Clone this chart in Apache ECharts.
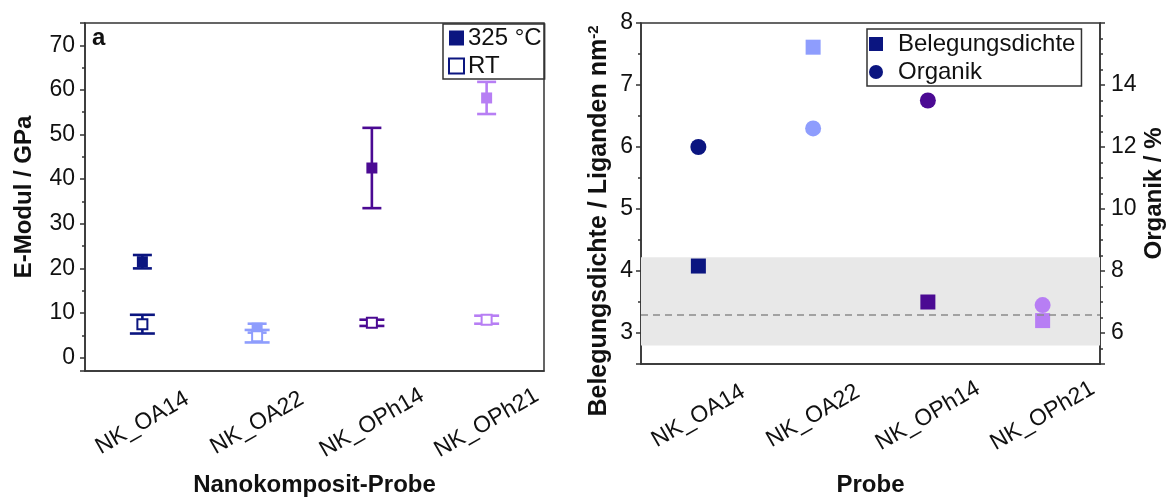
<!DOCTYPE html>
<html>
<head>
<meta charset="utf-8">
<script src="https://cdn.jsdelivr.net/npm/echarts@6/dist/echarts.min.js"></script>
<style>
  html, body { margin: 0; padding: 0; background: #fff; }
  #main { width: 1168px; height: 502px; }
</style>
</head>
<body>
<div id="main"></div>
<script>
// Proben
var categories = ['NK_OA14', 'NK_OA22', 'NK_OPh14', 'NK_OPh21'];

// E-Modul (links)
var hotValues = [21.5, 6.6, 42.5, 58.2];   // 325 °C
var hotErrors = [1.5, 1.0, 9.0, 3.6];
var rtValues = [7.5, 4.8, 7.8, 8.5];       // RT
var rtErrors = [2.1, 1.4, 0.7, 0.9];

// Belegungsdichte / Organik (rechts)
var densityValues = [4.08, 7.61, 3.50, 3.20];
var organicValues = [12.0, 12.6, 13.5, 6.9];
var bandRange = [2.8, 4.22];
var refLine = 3.3;

var ptColors = ['#0b1580', '#8e9dfd', '#4b0a93', '#b77ef4'];
var FONT = 'Liberation Sans, Arial, sans-serif';
var axisColor = '#333';

var myChart = echarts.init(document.getElementById('main'));

function points(vals, style) {
    return vals.map(function(v, i) {
        var s = { opacity: 1 };
        for (var k in style) s[k] = style[k];
        if (s.color === null) s.color = ptColors[i];
        if (s.borderColor === null) s.borderColor = ptColors[i];
        return { value: [i, v], itemStyle: s };
    });
}

function errorBars(vals, errs, capW) {
    return {
        type: 'custom',
        xAxisIndex: 0,
        yAxisIndex: 0,
        data: vals.map(function(v, i) { return [i, v, errs[i]]; }),
        renderItem: function(params, api) {
            var x = api.value(0), v = api.value(1), e = api.value(2);
            var top = api.coord([x, v + e]);
            var bot = api.coord([x, v - e]);
            var st = { stroke: ptColors[params.dataIndex], lineWidth: 2.6 };
            var w = capW / 2;
            return {
                type: 'group',
                children: [
                    { type: 'line', shape: { x1: top[0], y1: top[1], x2: bot[0], y2: bot[1] }, style: st },
                    { type: 'line', shape: { x1: top[0] - w, y1: top[1], x2: top[0] + w, y2: top[1] }, style: st },
                    { type: 'line', shape: { x1: bot[0] - w, y1: bot[1], x2: bot[0] + w, y2: bot[1] }, style: st }
                ]
            };
        },
        silent: true,
        z: 2
    };
}

var lineSt = { color: axisColor, width: 1.5 };

function xAxes(gridIndex, name, gap) {
    return [{
        gridIndex: gridIndex,
        type: 'category',
        data: categories,
        position: 'bottom',
        axisLine: { onZero: false, lineStyle: lineSt },
        axisTick: { alignWithLabel: true, length: 5, lineStyle: lineSt },
        axisLabel: {
            rotate: 30, align: 'center', verticalAlign: 'middle', margin: 52,
            fontSize: 23, fontFamily: FONT, color: '#111'
        },
        name: name,
        nameLocation: 'middle',
        nameGap: gap,
        nameTextStyle: { fontSize: 24, fontWeight: 'bold', fontFamily: FONT, color: '#111' }
    }, {
        gridIndex: gridIndex,
        type: 'category',
        data: categories,
        position: 'bottom',
        axisLine: { show: false, onZero: false },
        axisTick: { length: 3, lineStyle: lineSt },
        axisLabel: { show: false }
    }];
}

var tickLabel = { fontSize: 23, fontFamily: FONT, color: '#111' };

var option = {
    animation: false,
    textStyle: { fontFamily: FONT },
    grid: [
        { left: 85, right: 624, top: 23, bottom: 130, show: true, borderColor: axisColor, borderWidth: 1.5 },
        { left: 641, right: 68, top: 23, bottom: 130, show: true, borderColor: axisColor, borderWidth: 1.5 }
    ],
    xAxis: xAxes(0, 'Nanokomposit-Probe', 102).concat(xAxes(1, 'Probe', 109)),
    yAxis: [{
        gridIndex: 0,
        type: 'value',
        min: -3, max: 75,
        splitNumber: 8, minInterval: 10, maxInterval: 10,
        axisLine: { show: true, lineStyle: lineSt },
        axisTick: { show: true, length: 5, lineStyle: lineSt },
        minorTick: { show: true, splitNumber: 2, length: 3, lineStyle: lineSt },
        splitLine: { show: false },
        axisLabel: Object.assign({ margin: 10, showMinLabel: false, showMaxLabel: false }, tickLabel),
        name: 'E-Modul / GPa',
        nameLocation: 'middle',
        nameGap: 49,
        nameTextStyle: { fontSize: 24, fontWeight: 'bold', fontFamily: FONT, color: '#111' }
    }, {
        gridIndex: 1,
        type: 'value',
        min: 2.5, max: 8,
        splitNumber: 6, minInterval: 1, maxInterval: 1,
        axisLine: { show: true, lineStyle: lineSt },
        axisTick: { show: true, length: 5, lineStyle: lineSt },
        minorTick: { show: true, splitNumber: 2, length: 3, lineStyle: lineSt },
        splitLine: { show: false },
        axisLabel: Object.assign({ margin: 8, showMinLabel: false }, tickLabel)
    }, {
        gridIndex: 1,
        type: 'value',
        position: 'right',
        min: 5, max: 16,
        splitNumber: 6, minInterval: 2, maxInterval: 2,
        axisLine: { show: true, lineStyle: lineSt },
        axisTick: { show: true, length: 5, lineStyle: lineSt },
        minorTick: { show: true, splitNumber: 4, length: 3, lineStyle: lineSt },
        splitLine: { show: false },
        axisLabel: Object.assign({ margin: 11, showMinLabel: false, showMaxLabel: false }, tickLabel),
        name: 'Organik / %',
        nameLocation: 'middle',
        nameGap: 42,
        nameRotate: 90,
        nameTextStyle: { fontSize: 24, fontWeight: 'bold', fontFamily: FONT, color: '#111' }
    }],
    legend: [{
        left: 443, top: 24,
        orient: 'vertical',
        selectedMode: false,
        padding: [2, 3, 1, 5],
        itemGap: 4,
        itemWidth: 15, itemHeight: 15,
        borderColor: axisColor, borderWidth: 1.5,
        textStyle: { fontSize: 24, fontFamily: FONT, color: '#111', lineHeight: 24, padding: [0, 0, 0, -1] },
        data: [
            { name: '325 °C', icon: 'rect', itemStyle: { color: ptColors[0], opacity: 1 } },
            { name: 'RT', icon: 'rect', itemStyle: { color: '#fff', borderColor: ptColors[0], borderWidth: 2, opacity: 1 } }
        ]
    }, {
        left: 867, top: 29,
        orient: 'vertical',
        selectedMode: false,
        padding: [3, 6, 2, 2],
        itemGap: 4,
        itemWidth: 34, itemHeight: 14,
        borderColor: axisColor, borderWidth: 1.5,
        textStyle: { fontSize: 24, fontFamily: FONT, color: '#111', lineHeight: 24 },
        data: [
            { name: 'Belegungsdichte', icon: 'path://M0,0H10V10H0Z', itemStyle: { color: ptColors[0], opacity: 1 } },
            { name: 'Organik', icon: 'circle', itemStyle: { color: ptColors[0], opacity: 1 } }
        ]
    }],
    graphic: [{
        type: 'text', x: 92, y: 26,
        style: { text: 'a', font: 'bold 24px ' + FONT, fill: '#111' }
    }, {
        type: 'text', x: 599, y: 221, rotation: Math.PI / 2,
        style: {
            text: '{m|Belegungsdichte / Liganden nm}{s|-2}',
            align: 'center', verticalAlign: 'middle',
            rich: {
                m: { fontSize: 25, fontWeight: 'bold', fontFamily: FONT, fill: '#111', color: '#111' },
                s: { fontSize: 15, fontWeight: 'bold', fontFamily: FONT, fill: '#111', color: '#111', verticalAlign: 'top' }
            }
        }
    }],
    series: [
        errorBars(hotValues, hotErrors, 19),
        errorBars(rtValues, rtErrors, 25),
        {
            name: '325 °C', type: 'scatter', xAxisIndex: 0, yAxisIndex: 0,
            symbol: 'rect', symbolSize: 11, z: 3,
            data: points(hotValues, { color: null })
        },
        {
            name: 'RT', type: 'scatter', xAxisIndex: 0, yAxisIndex: 0,
            symbol: 'rect', symbolSize: 10, z: 3,
            data: points(rtValues, { color: '#fff', borderColor: null, borderWidth: 2 })
        },
        {
            name: 'Belegungsdichte', type: 'scatter', xAxisIndex: 2, yAxisIndex: 1,
            symbol: 'rect', symbolSize: 15, z: 3,
            data: points(densityValues, { color: null }),
            markArea: {
                silent: true,
                itemStyle: { color: '#e8e8e8', opacity: 1 },
                data: [[{ yAxis: bandRange[0] }, { yAxis: bandRange[1] }]]
            },
            markLine: {
                silent: true,
                symbol: 'none',
                label: { show: false },
                lineStyle: { color: '#8a8a8a', type: [7, 5], width: 1.5 },
                data: [{ yAxis: refLine }]
            }
        },
        {
            name: 'Organik', type: 'scatter', xAxisIndex: 2, yAxisIndex: 2,
            symbol: 'circle', symbolSize: 16, z: 4,
            data: points(organicValues, { color: null })
        }
    ]
};

myChart.setOption(option);
</script>
</body>
</html>
